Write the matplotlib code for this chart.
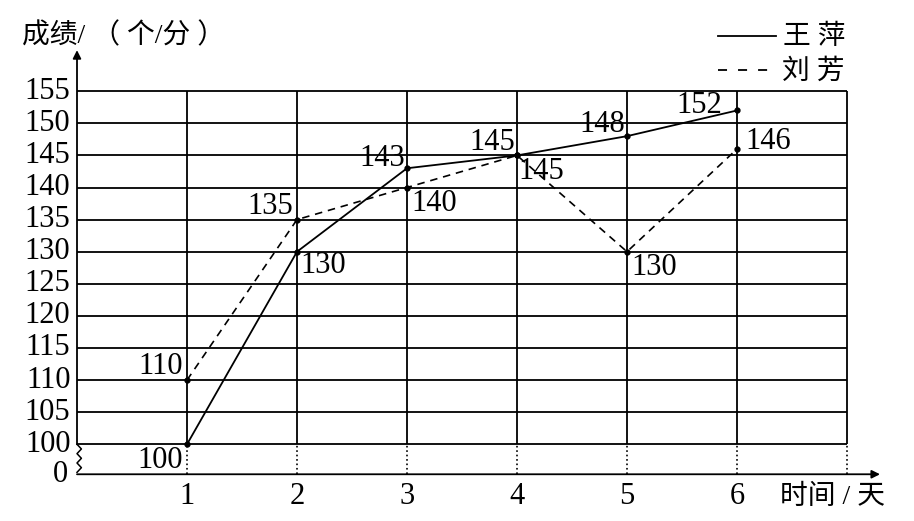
import matplotlib
matplotlib.use('Agg')
import matplotlib.pyplot as plt

# data
days = [1, 2, 3, 4, 5, 6]
wang_ping = [100, 130, 143, 145, 148, 152]
liu_fang = [110, 135, 140, 145, 130, 146]
y_ticks = [100, 105, 110, 115, 120, 125, 130, 135, 140, 145, 150, 155]
x_grid = [1, 2, 3, 4, 5, 6, 7]
x_labels = ['1', '2', '3', '4', '5', '6']

# where "0" sits on the broken axis
Y0 = 95.33

# point label offsets in pixels: (dx, dy, ha)
wang_offsets = [(-4, -16, 'right'), (3, -14, 'left'), (-2, 10, 'right'),
                (-2, 13, 'right'), (-2, 12, 'right'), (-15, 5, 'right')]
liu_offsets = [(-4, 14, 'right'), (-4, 13, 'right'), (4, -16, 'left'),
               (1, -16, 'left'), (4, -16, 'left'), (8, 7, 'left')]

NUM_FONT = ['Liberation Serif', 'Noto Sans CJK SC']
CJK_FONT = ['Liberation Serif', 'Noto Sans CJK SC']
NUM_SIZE = 22

fig = plt.figure(figsize=(9.14, 5.21), dpi=100)
ax = fig.add_axes([0, 0, 1, 1])
ax.set_xlim(-0.7, 7.609)
ax.set_ylim(88.05, 169.21)
ax.axis('off')

# grid
ax.hlines(y_ticks, 0, x_grid[-1], color='black', lw=1.3)
ax.vlines(x_grid, y_ticks[0], y_ticks[-1], color='black', lw=1.3)
ax.vlines(x_grid, Y0, y_ticks[0], color='black', lw=1.2, linestyles=':')

# axes with arrows
ax.annotate('', xy=(0, 161.4), xytext=(0, y_ticks[0]),
            arrowprops=dict(arrowstyle='-|>', color='black', lw=1.3,
                            mutation_scale=12, shrinkA=0, shrinkB=0))
ax.annotate('', xy=(7.3, Y0), xytext=(0, Y0),
            arrowprops=dict(arrowstyle='-|>', color='black', lw=1.3,
                            mutation_scale=12, shrinkA=0, shrinkB=0))

# axis break zigzag
zz_y = [y_ticks[0] - i * (y_ticks[0] - Y0 - 0.3) / 6 for i in range(7)]
zz_x = [0, 0.04, 0, 0.04, 0, 0.04, 0]
ax.plot(zz_x, zz_y, color='black', lw=1.1)

# series
ax.plot(days, wang_ping, color='black', lw=1.3, marker='o', markersize=3.5)
ax.plot(days, liu_fang, color='black', lw=1.2, linestyle=(0, (4.5, 3.5)),
        marker='o', markersize=3.5)

for x, v, (dx, dy, ha) in zip(days, wang_ping, wang_offsets):
    ax.annotate(str(v), (x, v), xytext=(dx, dy), textcoords='offset pixels',
                ha=ha, va='center', fontsize=NUM_SIZE, family=NUM_FONT)
for x, v, (dx, dy, ha) in zip(days, liu_fang, liu_offsets):
    ax.annotate(str(v), (x, v), xytext=(dx, dy), textcoords='offset pixels',
                ha=ha, va='center', fontsize=NUM_SIZE, family=NUM_FONT)

# tick labels
for v in y_ticks:
    ax.text(-0.06, v, str(v), ha='right', va='center', fontsize=NUM_SIZE, family=NUM_FONT)
ax.text(-0.08, Y0, '0', ha='right', va='center', fontsize=NUM_SIZE, family=NUM_FONT)
for x, lab in zip(days, x_labels):
    ax.text(x, 91.8, lab, ha='center', va='center', fontsize=NUM_SIZE, family=NUM_FONT)

# axis titles
ax.text(-0.5, 163.6, '成绩/ （ 个/分 ）', ha='left', va='center', fontsize=20, family=CJK_FONT)
ax.text(6.39, 91.8, '时间 / 天', ha='left', va='center', fontsize=20, family=CJK_FONT)

# legend
ax.plot([5.83, 6.35], [163.6, 163.6], color='black', lw=1.3)
ax.text(6.42, 163.4, '王 萍', ha='left', va='center', fontsize=20, family=CJK_FONT)
ax.plot([5.83, 6.28], [158.3, 158.3], color='black', lw=1.3, linestyle=(0, (5, 6.1)))
ax.text(6.41, 158.0, '刘 芳', ha='left', va='center', fontsize=20, family=CJK_FONT)

fig.savefig('out.png', dpi=100)
